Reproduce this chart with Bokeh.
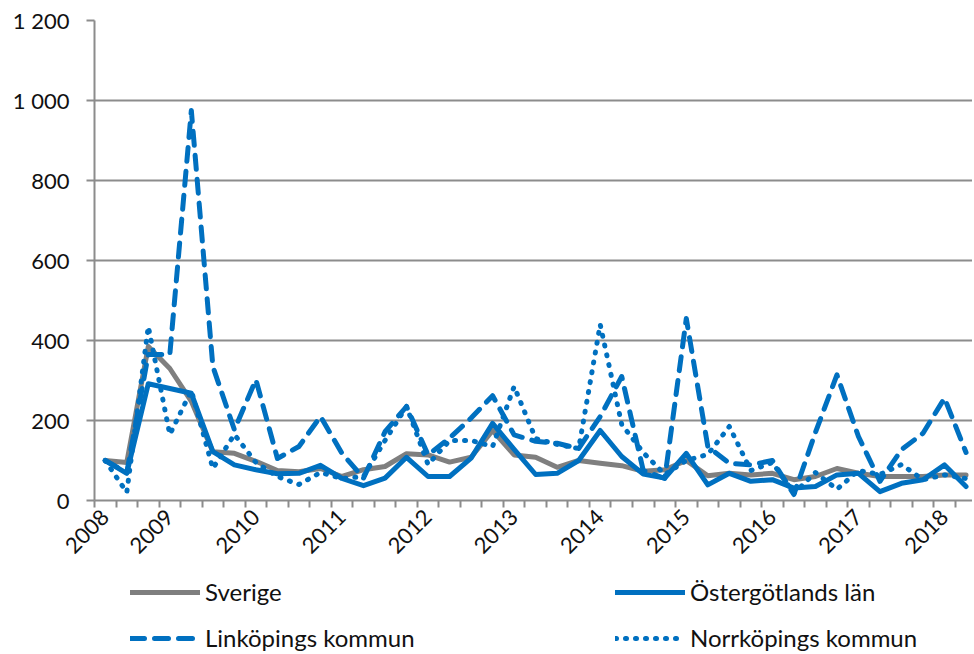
import math
from bokeh.plotting import figure
from bokeh.layouts import column
from bokeh.models import FixedTicker, Legend, LegendItem, Range1d
from bokeh.embed import file_html
from bokeh.resources import INLINE

# Quarterly observations, 2008 Q2 .. 2018 Q2 (index 0..40)
quarters = [f"{2008 + (i + 1) // 4} Q{(i + 1) % 4 + 1}" for i in range(41)]
x_idx = list(range(len(quarters)))

year_labels = ["2008", "2009", "2010", "2011", "2012", "2013",
               "2014", "2015", "2016", "2017", "2018"]
year_label_pos = [0, 3, 7, 11, 15, 19, 23, 27, 31, 35, 39]

series_names = ["Sverige", "Östergötlands län", "Linköpings kommun",
                "Norrköpings kommun"]

sverige = [100, 95, 385, 330, 248, 122, 118, 98, 75, 72, 80, 60, 77, 85, 117,
           114, 96, 108, 175, 114, 108, 83, 100, 93, 87, 73, 77, 100, 62, 68,
           64, 68, 52, 60, 80, 68, 60, 60, 60, 64, 64]
ostergotland = [100, 68, 292, 280, 268, 122, 89, 77, 67, 68, 88, 55, 37, 56,
                108, 60, 60, 106, 193, 128, 65, 68, 100, 175, 110, 66, 56, 118,
                39, 68, 48, 52, 31, 35, 64, 68, 22, 43, 52, 89, 35]
linkoping = [100, 70, 365, 365, 975, 335, 177, 302, 105, 135, 210, 118, 56,
             172, 235, 114, 156, 206, 262, 164, 148, 143, 130, 210, 310, 75,
             55, 455, 135, 93, 89, 100, 15, 170, 314, 160, 48, 127, 168, 256,
             120]
norrkoping = [100, 20, 435, 165, 275, 80, 165, 95, 60, 40, 70, 55, 60, 150,
              235, 90, 150, 150, 135, 285, 155, 140, 130, 440, 190, 120, 65,
              100, 115, 185, 75, 95, 18, 70, 28, 75, 65, 90, 52, 64, 55]

y_ticks = [0, 200, 400, 600, 800, 1000, 1200]
y_tick_labels = ["0", "200", "400", "600", "800", "1 000", "1 200"]

GRAY = "#7f7f7f"
BLUE = "#0070c0"
GRID = "#8c8c8c"
TXT = "#111111"
FONT = "Lato"
FS = "22px"
LFS = "24px"

styles = [
    dict(line_color=GRAY, line_width=5),
    dict(line_color=BLUE, line_width=5),
    dict(line_color=BLUE, line_width=5, line_dash="14 10"),
    dict(line_color=BLUE, line_width=5, line_dash="1 9"),
]
all_series = [sverige, ostergotland, linkoping, norrkoping]

p = figure(width=972, height=565, output_backend="svg", toolbar_location=None,
           x_range=Range1d(-0.5, 40.3), y_range=Range1d(0, 1200),
           min_border_left=94, min_border_right=0, min_border_top=20,
           min_border_bottom=65)
p.outline_line_color = None
p.background_fill_color = "white"
p.border_fill_color = "white"

for vals, st in zip(all_series, styles):
    p.line(x_idx, vals, line_join="round", line_cap="round", **st)

# grid
p.xgrid.grid_line_color = None
p.ygrid.ticker = FixedTicker(ticks=y_ticks)
p.ygrid.grid_line_color = GRID
p.ygrid.grid_line_width = 2

# y axis
ya = p.yaxis[0]
ya.ticker = FixedTicker(ticks=y_ticks)
ya.major_label_overrides = {t: s for t, s in zip(y_ticks, y_tick_labels)}
ya.axis_line_color = GRID
ya.axis_line_width = 2
ya.major_tick_line_color = GRID
ya.major_tick_line_width = 2
ya.major_tick_out = 8
ya.major_tick_in = 0
ya.minor_tick_line_color = None
ya.major_label_standoff = 17
ya.major_label_text_font = FONT
ya.major_label_text_font_size = FS
ya.major_label_text_color = TXT

# x axis
xa = p.xaxis[0]
xa.ticker = FixedTicker(ticks=year_label_pos,
                        minor_ticks=[i - 0.5 for i in range(42)])
xa.major_label_overrides = {t: s for t, s in zip(year_label_pos, year_labels)}
xa.axis_line_color = GRID
xa.axis_line_width = 2
xa.major_tick_line_color = None
xa.major_tick_out = 0
xa.major_tick_in = 0
xa.minor_tick_line_color = GRID
xa.minor_tick_line_width = 2
xa.minor_tick_out = 7
xa.minor_tick_in = 0
xa.major_label_orientation = math.pi / 4
xa.major_label_standoff = 6
xa.major_label_text_font = FONT
xa.major_label_text_font_size = FS
xa.major_label_text_color = TXT

# legend strip below the chart (its frame is aligned with the chart's frame);
# the series are drawn there far outside the visible range, only for the keys
pl = figure(width=972, height=87, output_backend="svg", toolbar_location=None,
            x_range=Range1d(-0.5, 40.3), y_range=Range1d(-3000, -2000),
            x_axis_type=None, y_axis_type=None,
            min_border_left=94, min_border_right=0, min_border_top=0,
            min_border_bottom=0)
pl.outline_line_color = None
pl.xgrid.grid_line_color = None
pl.ygrid.grid_line_color = None
leg_renderers = [pl.line(x_idx, vals, line_join="round", line_cap="round", **st)
                 for vals, st in zip(all_series, styles)]

legend = Legend(items=[LegendItem(label=n, renderers=[r])
                       for n, r in zip(series_names, leg_renderers)],
                orientation="horizontal", ncols=2, location=(36, 0))
legend.margin = 0
legend.padding = 0
legend.spacing = 17
legend.glyph_width = 70
legend.glyph_height = 20
legend.label_height = 20
legend.label_width = 393
legend.label_standoff = 5
legend.label_text_font = FONT
legend.label_text_font_size = LFS
legend.label_text_color = TXT
legend.border_line_color = None
legend.background_fill_alpha = 0
pl.add_layout(legend, "center")

layout = column(p, pl, spacing=0)
open("out.html", "w").write(file_html(layout, INLINE))
